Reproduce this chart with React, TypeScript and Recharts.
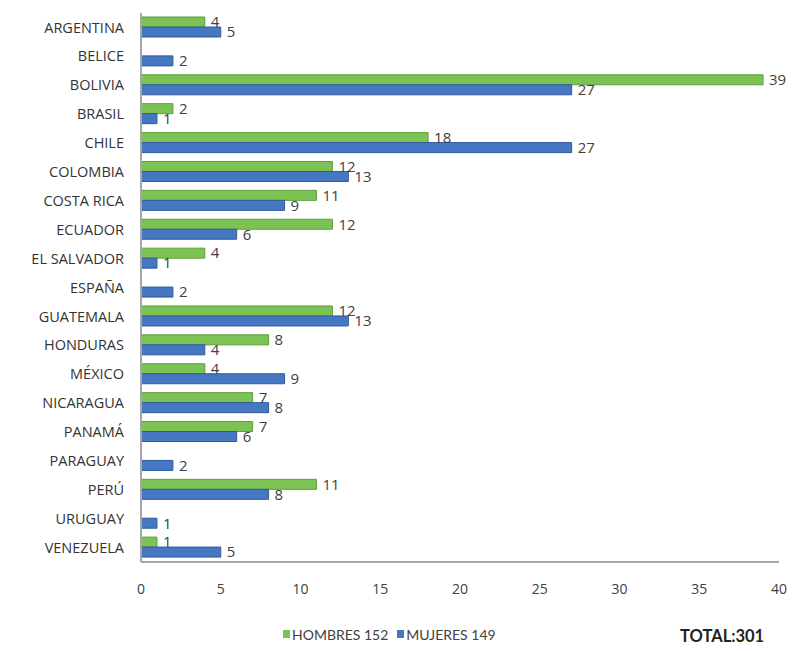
import { BarChart, Bar, XAxis, YAxis, Legend, LabelList } from 'recharts'

const countries = [
  'ARGENTINA', 'BELICE', 'BOLIVIA', 'BRASIL', 'CHILE', 'COLOMBIA', 'COSTA RICA',
  'ECUADOR', 'EL SALVADOR', 'ESPAÑA', 'GUATEMALA', 'HONDURAS', 'MÉXICO',
  'NICARAGUA', 'PANAMÁ', 'PARAGUAY', 'PERÚ', 'URUGUAY', 'VENEZUELA',
]
const hombres = [4, 0, 39, 2, 18, 12, 11, 12, 4, 0, 12, 8, 4, 7, 7, 0, 11, 0, 1]
const mujeres = [5, 2, 27, 1, 27, 13, 9, 6, 1, 2, 13, 4, 9, 8, 6, 2, 8, 1, 5]
const xTicks = [0, 5, 10, 15, 20, 25, 30, 35, 40]

const GREEN = '#7dc353'
const GREEN_EDGE = '#5f9c3c'
const BLUE = '#4677c2'
const BLUE_EDGE = '#2f5a9a'
const TEXT = '#404040'
const FONT = '"Open Sans", Lato, sans-serif'
const LEGEND_FONT = 'Lato, "Open Sans", sans-serif'

const data = countries.map((c, i) => ({ country: c, hombres: hombres[i], mujeres: mujeres[i] }))

const hideZero = (v: any) => (v ? v : '')

function LegendContent() {
  const item = (color: string, label: string) => (
    <span style={{ display: 'inline-flex', alignItems: 'center', marginRight: 9 }}>
      <span style={{ width: 7, height: 8, background: color, marginRight: 2, display: 'inline-block' }} />
      {label}
    </span>
  )
  return (
    <div style={{ fontFamily: LEGEND_FONT, fontSize: 14, color: TEXT, whiteSpace: 'nowrap' }}>
      {item(GREEN, 'HOMBRES 152')}
      {item(BLUE, 'MUJERES 149')}
    </div>
  )
}

export default function App() {
  return (
    <div style={{ position: 'absolute', left: 0, top: 0, width: 795, height: 651, background: '#fff' }}>
      <BarChart
        width={795}
        height={651}
        data={data}
        layout="vertical"
        margin={{ top: 13, right: 16, bottom: 19, left: 0 }}
        barGap={0}
        barSize={10}
      >
        <XAxis
          type="number"
          domain={[0, 40]}
          ticks={xTicks}
          tickLine={false}
          tickMargin={16}
          axisLine={{ stroke: '#a6a6a6', strokeWidth: 2 }}
          tick={{ fontSize: 14, fill: TEXT, fontFamily: FONT }}
        />
        <YAxis
          type="category"
          dataKey="country"
          width={141}
          tickLine={false}
          tickMargin={11}
          axisLine={{ stroke: '#a6a6a6', strokeWidth: 2 }}
          tick={{ fontSize: 14.5, fill: '#333', fontFamily: FONT }}
          interval={0}
        />
        <Legend
          verticalAlign="bottom"
          height={40}
          content={<LegendContent />}
          wrapperStyle={{ top: 624, left: 283, width: 300 }}
        />
        <Bar dataKey="hombres" name="HOMBRES 152" fill={GREEN} stroke={GREEN_EDGE} strokeWidth={1} isAnimationActive={false}>
          <LabelList dataKey="hombres" position="right" offset={6} formatter={hideZero} fill={TEXT} fontSize={15} fontFamily={FONT} />
        </Bar>
        <Bar dataKey="mujeres" name="MUJERES 149" fill={BLUE} stroke={BLUE_EDGE} strokeWidth={1} isAnimationActive={false}>
          <LabelList dataKey="mujeres" position="right" offset={6} formatter={hideZero} fill={TEXT} fontSize={15} fontFamily={FONT} />
        </Bar>
      </BarChart>
      <div
        style={{
          position: 'absolute', left: 680, top: 626, fontFamily: LEGEND_FONT, fontWeight: 700,
          fontSize: 16.5, color: '#222',
        }}
      >
        TOTAL:301
      </div>
    </div>
  )
}
